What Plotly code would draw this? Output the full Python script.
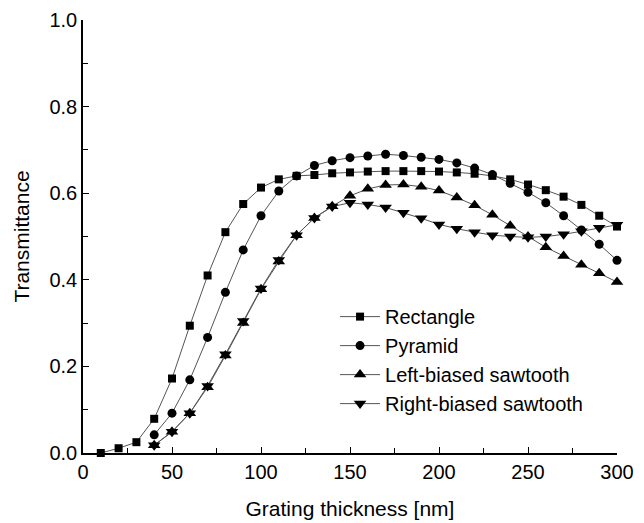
import plotly.graph_objects as go

thickness_rect = [10, 20, 30, 40, 50, 60, 70, 80, 90, 100, 110, 120, 130, 140, 150,
                  160, 170, 180, 190, 200, 210, 220, 230, 240, 250, 260, 270, 280, 290, 300]
rectangle = [0.0, 0.011, 0.025, 0.079, 0.172, 0.294, 0.41, 0.51, 0.575, 0.613, 0.632, 0.64,
             0.642, 0.646, 0.648, 0.65, 0.651, 0.651, 0.651, 0.65, 0.648, 0.645, 0.64, 0.632,
             0.62, 0.607, 0.592, 0.573, 0.548, 0.523]

thickness = [40, 50, 60, 70, 80, 90, 100, 110, 120, 130, 140, 150, 160, 170, 180, 190,
             200, 210, 220, 230, 240, 250, 260, 270, 280, 290, 300]
pyramid = [0.042, 0.092, 0.169, 0.267, 0.371, 0.469, 0.548, 0.605, 0.64, 0.664, 0.675, 0.682,
           0.686, 0.69, 0.687, 0.683, 0.678, 0.67, 0.658, 0.643, 0.623, 0.602, 0.578, 0.548,
           0.515, 0.482, 0.445]
left_saw = [0.018, 0.049, 0.092, 0.152, 0.225, 0.3, 0.378, 0.442, 0.503, 0.543, 0.57, 0.594,
            0.61, 0.619, 0.62, 0.615, 0.606, 0.59, 0.572, 0.55, 0.525, 0.5, 0.475, 0.455,
            0.435, 0.415, 0.395]
right_saw = [0.018, 0.049, 0.092, 0.155, 0.228, 0.305, 0.38, 0.446, 0.503, 0.543, 0.569, 0.578,
             0.574, 0.567, 0.555, 0.542, 0.528, 0.518, 0.51, 0.503, 0.5, 0.498, 0.5, 0.505,
             0.512, 0.52, 0.527]

names = ["Rectangle", "Pyramid", "Left-biased sawtooth", "Right-biased sawtooth"]
FONT = "Arial, Liberation Sans, sans-serif"

fig = go.Figure()
series = [
    (thickness_rect, rectangle, "square", 8),
    (thickness, pyramid, "circle", 9),
    (thickness, left_saw, "triangle-up", 11),
    (thickness, right_saw, "triangle-down", 11),
]
for (xs, ys, sym, size), name in zip(series, names):
    fig.add_trace(go.Scatter(
        x=xs, y=ys, name=name, mode="lines+markers", legendgroup=name,
        line=dict(color="#555555", width=1),
        marker=dict(symbol=sym, size=size, color="black", line=dict(width=0)),
        cliponaxis=False,
    ))

axis_common = dict(
    showline=True, linecolor="black", linewidth=1.5, mirror=False,
    ticks="inside", ticklen=6, tickwidth=1.2, tickcolor="black",
    showgrid=False, zeroline=False, automargin=False,
    tickfont=dict(family=FONT, size=20, color="black"),
)
fig.update_xaxes(range=[0, 300], tick0=0, dtick=50,
                 minor=dict(ticks="inside", ticklen=5, tickwidth=1.2, tickcolor="black", dtick=25),
                 title=dict(text="Grating thickness [nm]", font=dict(family=FONT, size=21, color="black"), standoff=20),
                 **axis_common)
fig.update_yaxes(range=[0, 1.0], tick0=0, dtick=0.2, tickformat=".1f",
                 minor=dict(ticks="inside", ticklen=5, tickwidth=1.2, tickcolor="black", dtick=0.1),
                 title=dict(text="Transmittance", font=dict(family=FONT, size=21, color="black"), standoff=14),
                 **axis_common)

fig.update_layout(
    width=644, height=523,
    margin=dict(l=83, r=27, t=20, b=70),
    plot_bgcolor="white", paper_bgcolor="white",
    font=dict(family=FONT, color="black"),
    legend=dict(x=0.472, y=0.36, xanchor="left", yanchor="top",
                font=dict(family=FONT, size=20, color="black"),
                bgcolor="rgba(0,0,0,0)", tracegroupgap=0, itemwidth=40),
)

fig.write_html("out.html")
